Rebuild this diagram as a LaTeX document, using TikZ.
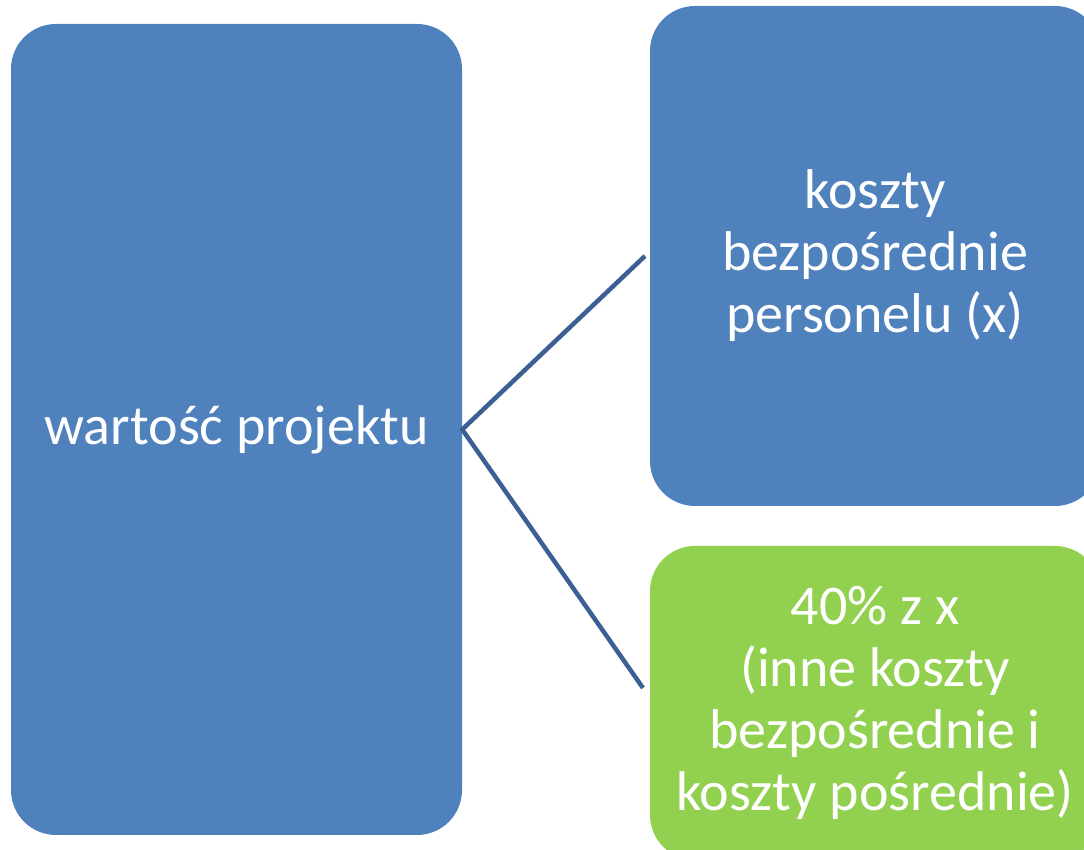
\documentclass[tikz,border=0pt]{standalone}
\usepackage{fontspec}
\setmainfont{Carlito}
\definecolor{boxblue}{HTML}{4F81BD}
\definecolor{boxgreen}{HTML}{92D050}
\definecolor{linkblue}{HTML}{3C5F94}
\begin{document}
\begin{tikzpicture}[x=1pt,y=1pt,
  card/.style={rectangle,rounded corners=45pt,inner sep=0pt,text=white,align=center,
    font=\fontsize{56}{62}\selectfont},
  link/.style={draw=linkblue,line width=4.5pt}]
\useasboundingbox (0,0) rectangle (1084,850);
\node[card,fill=boxblue,minimum width=451pt,minimum height=811pt] (L) at (236.5,420.5) {warto\'s\'c projektu};
\node[card,fill=boxblue,minimum width=450pt,minimum height=500pt] (T) at (875,594) {koszty\\bezpo\'srednie\\personelu (x)};
\node[card,fill=boxgreen,minimum width=450pt,minimum height=314pt] (B) at (875,147) {40\% z x\\(inne koszty\\bezpo\'srednie i\\koszty po\'srednie)};
\coordinate (ta) at (645,594);
\coordinate (tb) at (643,162);
\draw[link] (ta) -- (L.east) -- (tb);
\end{tikzpicture}
\end{document}
